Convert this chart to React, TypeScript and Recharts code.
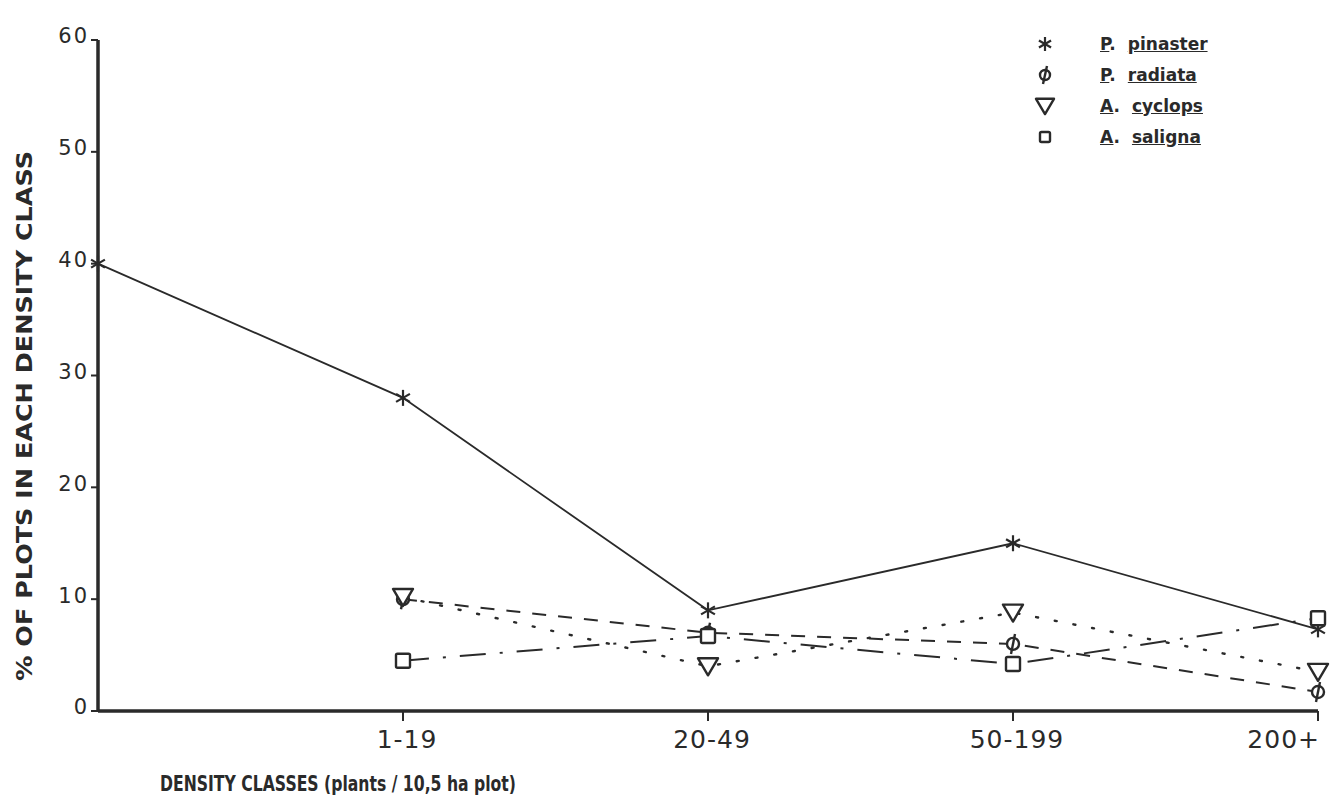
import { LineChart, Line, XAxis, YAxis } from "recharts";

const categories = ["", "1-19", "20-49", "50-199", "200+"];
const pinaster = [40, 28, 9, 15, 7.3];
const radiata = [null, 10, 7, 6, 1.7];
const cyclops = [null, 10.2, 4, 8.8, 3.5];
const saligna = [null, 4.5, 6.7, 4.2, 8.3];
const yTicks = [0, 10, 20, 30, 40, 50, 60];

const data = categories.map((c, i) => ({
  cls: c,
  pinaster: pinaster[i],
  radiata: radiata[i],
  cyclops: cyclops[i],
  saligna: saligna[i],
}));

const INK = "#2a2a2a";
const FONT = "'DejaVu Sans', sans-serif";

function Star({ cx, cy, s = 8 }: any) {
  if (cx == null || cy == null) return <g />;
  const arms = [0, 60, 120].map((a) => {
    const r = (a * Math.PI) / 180;
    return (
      <line
        key={a}
        x1={cx - s * Math.sin(r)}
        y1={cy - s * Math.cos(r)}
        x2={cx + s * Math.sin(r)}
        y2={cy + s * Math.cos(r)}
        stroke={INK}
        strokeWidth={2.2}
      />
    );
  });
  return <g>{arms}</g>;
}

function Phi({ cx, cy, s = 6 }: any) {
  if (cx == null || cy == null) return <g />;
  return (
    <g>
      <circle cx={cx} cy={cy} r={s} fill="#fff" stroke={INK} strokeWidth={2.4} />
      <line x1={cx + 2} y1={cy - s - 4} x2={cx - 2} y2={cy + s + 4} stroke={INK} strokeWidth={2.4} />
    </g>
  );
}

function Tri({ cx, cy, s = 10 }: any) {
  if (cx == null || cy == null) return <g />;
  return (
    <polygon
      points={`${cx - s},${cy - s * 0.8} ${cx + s},${cy - s * 0.8} ${cx},${cy + s * 0.9}`}
      fill="#fff"
      stroke={INK}
      strokeWidth={2.4}
      strokeLinejoin="round"
    />
  );
}

function Sq({ cx, cy, s = 7 }: any) {
  if (cx == null || cy == null) return <g />;
  return (
    <rect x={cx - s} y={cy - s} width={s * 2} height={s * 2} fill="#fff" stroke={INK} strokeWidth={2.4} rx={1.5} />
  );
}

const legendItems = [
  { key: "pinaster", genus: "P", name: "pinaster", Icon: Star, s: 7 },
  { key: "radiata", genus: "P", name: "radiata", Icon: Phi, s: 5 },
  { key: "cyclops", genus: "A", name: "cyclops", Icon: Tri, s: 9 },
  { key: "saligna", genus: "A", name: "saligna", Icon: Sq, s: 5 },
];

function LegendBox() {
  return (
    <div
      style={{
        position: "absolute",
        left: 1030,
        top: 28,
        fontFamily: FONT,
        color: INK,
        fontWeight: "bold",
        fontSize: 17,
      }}
    >
      {legendItems.map(({ key, genus, name, Icon, s }) => (
        <div key={key} style={{ display: "flex", alignItems: "center", height: 31 }}>
          <svg width={30} height={28}>
            <Icon cx={15} cy={14} s={s} />
          </svg>
          <span style={{ marginLeft: 40 }}>
            <span style={{ textDecoration: "underline" }}>{genus}</span>.
            <span style={{ textDecoration: "underline", marginLeft: 12 }}>{name}</span>
          </span>
        </div>
      ))}
    </div>
  );
}

function YTitle() {
  return (
    <text
      x={32}
      y={416}
      transform="rotate(-90 32 416)"
      textAnchor="middle"
      fontFamily={FONT}
      fontWeight="bold"
      fontSize={22}
      textLength={530}
      lengthAdjust="spacingAndGlyphs"
      fill={INK}
    >
      % OF PLOTS IN EACH DENSITY CLASS
    </text>
  );
}

function XTitle() {
  return (
    <text
      x={160}
      y={791}
      fontFamily={FONT}
      fontWeight="bold"
      fontSize={21}
      textLength={356}
      lengthAdjust="spacingAndGlyphs"
      fill={INK}
    >
      DENSITY CLASSES (plants / 10,5 ha plot)
    </text>
  );
}

function XTick({ x, y, payload, index }: any) {
  if (!payload || payload.value === "") return <g />;
  const last = index === categories.length - 1;
  return (
    <g>
      <line x1={x} y1={y - 2} x2={x} y2={y + 8} stroke={INK} strokeWidth={2} />
      <text
        x={last ? x + 2 : x + 4}
        y={y + 35}
        textAnchor={last ? "end" : "middle"}
        fontFamily={FONT}
        fontSize={25}
        letterSpacing={1}
        fill={INK}
      >
        {payload.value}
      </text>
    </g>
  );
}

export default function App() {
  return (
    <div style={{ position: "absolute", left: 0, top: 0, width: 1339, height: 803, background: "#fff" }}>
      <LineChart
        width={1339}
        height={803}
        data={data}
        margin={{ top: 40, right: 21, bottom: 62, left: 0 }}
      >
        <XAxis
          dataKey="cls"
          type="category"
          height={30}
          padding={{ left: 0, right: 0 }}
          axisLine={{ stroke: INK, strokeWidth: 3.5 }}
          tickLine={false}
          tickSize={0}
          tick={<XTick />}
          interval={0}
          label={<XTitle />}
        />
        <YAxis
          width={98}
          domain={[0, 60]}
          ticks={yTicks}
          axisLine={{ stroke: INK, strokeWidth: 3.5 }}
          tickLine={{ stroke: INK, strokeWidth: 2 }}
          tickSize={7}
          tick={{ fill: INK, fontSize: 21, fontFamily: FONT, letterSpacing: 2, dy: -4 }}
          label={<YTitle />}
        />
        <Line
          dataKey="pinaster"
          stroke={INK}
          strokeWidth={1.8}
          dot={<Star />}
          isAnimationActive={false}
          connectNulls
        />
        <Line
          dataKey="radiata"
          stroke={INK}
          strokeWidth={2}
          strokeDasharray="14 12"
          dot={<Phi />}
          isAnimationActive={false}
          connectNulls
        />
        <Line
          dataKey="cyclops"
          stroke={INK}
          strokeWidth={2.4}
          strokeDasharray="2 17"
          strokeLinecap="round"
          dot={<Tri />}
          isAnimationActive={false}
          connectNulls
        />
        <Line
          dataKey="saligna"
          stroke={INK}
          strokeWidth={2}
          strokeDasharray="26 14 3 14"
          dot={<Sq />}
          isAnimationActive={false}
          connectNulls
        />
      </LineChart>
      <LegendBox />
    </div>
  );
}
